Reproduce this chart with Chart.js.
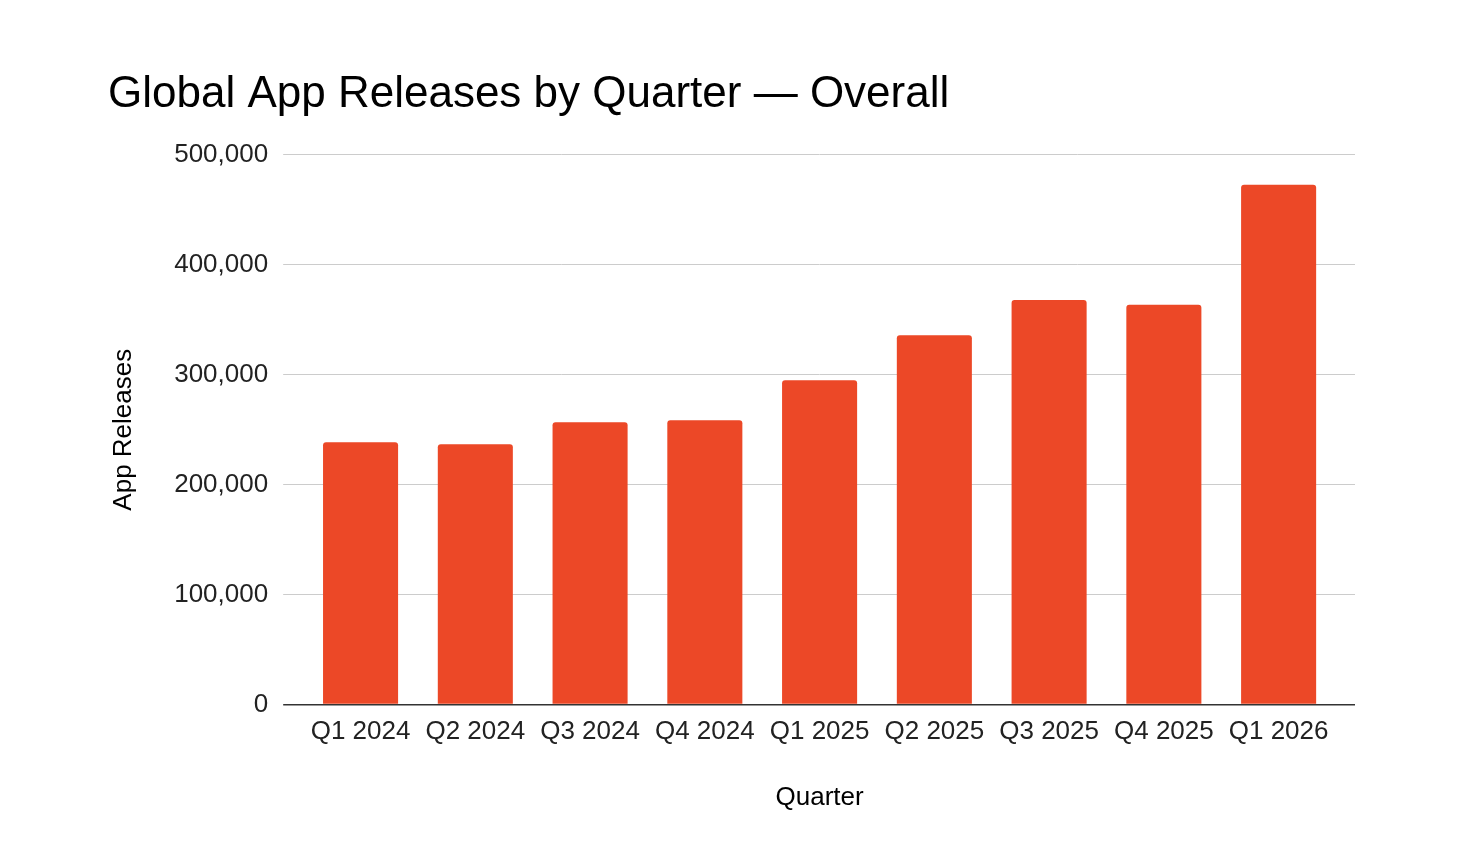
<!DOCTYPE html>
<html>
<head>
<meta charset="utf-8">
<script src="https://cdn.jsdelivr.net/npm/chart.js@4.4.1/dist/chart.umd.min.js"></script>
<style>
  body { margin: 0; background: #fff; }
  #caja { width: 1468px; height: 842px; }
</style>
</head>
<body>
<div id="caja"><canvas id="grafica"></canvas></div>
<script>
// datos
let trimestres = ['Q1 2024', 'Q2 2024', 'Q3 2024', 'Q4 2024', 'Q1 2025', 'Q2 2025', 'Q3 2025', 'Q4 2025', 'Q1 2026'];
let lanzamientos = [238500, 236800, 256800, 258700, 295000, 335800, 368000, 363700, 472700];
let marcasY = [0, 100000, 200000, 300000, 400000, 500000];

let fuente = "'Liberation Sans', Arial, sans-serif";
let extra = 19; // cuanto sobresalen las lineas de la rejilla

// alarga las lineas horizontales a la derecha del area del grafico
let alargarRejilla = {
    id: 'alargarRejilla',
    beforeDatasetsDraw(chart) {
        let c = chart.ctx;
        let area = chart.chartArea;
        let y = chart.scales.y;
        c.save();
        y.ticks.forEach(function (t) {
            let ancho = t.value === 0 ? 1.5 : 1;
            // mismo redondeo que usa Chart.js para la rejilla
            let py = Math.round(y.getPixelForValue(t.value) - ancho / 2) + ancho / 2;
            c.strokeStyle = t.value === 0 ? '#333333' : '#cccccc';
            c.lineWidth = ancho;
            c.beginPath();
            c.moveTo(area.right, py);
            c.lineTo(area.right + extra, py);
            c.stroke();
        })
        c.restore();
    }
};

let ctx = document.getElementById('grafica');
new Chart(ctx, {
    type: 'bar',
    data: {
        labels: trimestres,
        datasets: [{
            label: 'App Releases',
            data: lanzamientos,
            backgroundColor: '#ec4827',
            borderRadius: { topLeft: 3, topRight: 3, bottomLeft: 0, bottomRight: 0 },
            borderSkipped: 'bottom',
            categoryPercentage: 1,
            barPercentage: 0.654
        }]
    },
    options: {
        responsive: true,
        maintainAspectRatio: false,
        animation: false,
        layout: { padding: { left: 108, right: 132, top: 68, bottom: 29 } },
        plugins: {
            legend: { display: false },
            tooltip: { enabled: false },
            title: {
                display: true,
                text: 'Global App Releases by Quarter — Overall',
                align: 'start',
                color: '#000',
                font: { family: fuente, size: 44, weight: 'normal' },
                padding: { top: 0, bottom: 34 }
            }
        },
        scales: {
            x: {
                grid: { display: false },
                border: { display: false },
                ticks: {
                    color: '#222',
                    font: { family: fuente, size: 26 },
                    maxRotation: 0,
                    padding: 4
                },
                title: {
                    display: true,
                    text: 'Quarter',
                    color: '#000',
                    font: { family: fuente, size: 26 },
                    padding: { top: 30, bottom: 0 }
                }
            },
            y: {
                min: 0,
                max: 500000,
                afterBuildTicks: function (eje) {
                    eje.ticks = marcasY.map(function (v) { return { value: v }; });
                },
                grid: {
                    color: function (c) { return c.tick && c.tick.value === 0 ? '#333333' : '#cccccc'; },
                    lineWidth: function (c) { return c.tick && c.tick.value === 0 ? 1.5 : 1; },
                    drawTicks: true,
                    tickLength: 20
                },
                border: { display: false },
                ticks: {
                    color: '#222',
                    font: { family: fuente, size: 26 },
                    padding: 15,
                    callback: function (v) { return v.toLocaleString('en-US'); }
                },
                title: {
                    display: true,
                    text: 'App Releases',
                    color: '#000',
                    font: { family: fuente, size: 26 },
                    padding: { top: 0, bottom: 20 }
                }
            }
        }
    },
    plugins: [alargarRejilla]
});
</script>
</body>
</html>
